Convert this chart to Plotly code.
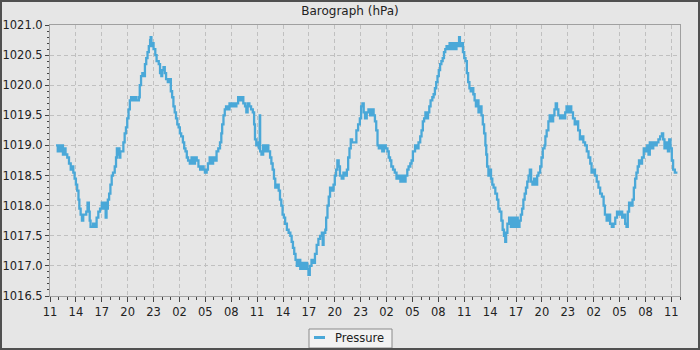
import datetime as dt
import plotly.graph_objects as go

# ---- data (hours after the first 11:00 tick, pressure in hPa) ----
hours = [
    0.7, 0.9, 1.0, 1.2, 1.3, 1.5, 1.6, 1.8, 2.0, 2.2, 2.4, 2.55, 2.7, 2.85, 3.0, 3.15, 3.3, 3.4, 3.55, 3.7,
    3.85, 4.05, 4.2, 4.35, 4.5, 4.6, 4.7, 5.0, 5.2, 5.4, 5.6, 5.8, 6.0, 6.2, 6.35, 6.45, 6.55, 6.7, 6.85, 7.0,
    7.15, 7.3, 7.5, 7.65, 7.75, 7.85, 7.95, 8.05, 8.15, 8.3, 8.5, 8.65, 8.8, 8.95, 9.1, 9.25, 9.4, 9.6, 9.8, 10.0,
    10.3, 10.4, 10.55, 10.7, 10.8, 11.0, 11.15, 11.3, 11.45, 11.6, 11.66, 11.75, 11.9, 12.0, 12.2, 12.35, 12.5,
    12.6, 12.75, 12.9, 13.0, 13.15, 13.3, 13.45, 13.65, 13.85, 14.0, 14.15, 14.3, 14.45, 14.6, 14.75, 14.9, 15.05,
    15.2, 15.4, 15.55, 15.7, 15.85, 16.0, 16.2, 16.4, 16.6, 16.8, 17.0, 17.2, 17.4, 17.6, 17.8, 17.95, 18.15, 18.3,
    18.5, 18.7, 18.9, 19.1, 19.3, 19.5, 19.7, 19.85, 19.95, 20.1, 20.25, 20.4, 20.6, 20.8, 21.0, 21.2, 21.4, 21.6,
    21.8, 22.0, 22.2, 22.4, 22.6, 22.75, 22.9, 23.1, 23.3, 23.5, 23.65, 23.75, 23.9, 24.05, 24.2, 24.3, 24.35, 24.5,
    24.7, 24.9, 25.1, 25.3,
    25.5, 25.65, 25.8, 25.95, 26.1, 26.3, 26.5, 26.65, 26.8, 26.95, 27.1, 27.25, 27.45, 27.65, 27.85, 28.0, 28.15,
    28.3, 28.45, 28.6, 28.8, 29.0, 29.2, 29.4, 29.6, 29.8, 29.95, 30.1, 30.3, 30.5, 30.7, 30.9, 31.1, 31.3, 31.5,
    31.6, 31.7, 31.9, 32.0, 32.15, 32.3, 32.45, 32.65, 32.85, 33.0, 33.15, 33.3, 33.45, 33.6, 33.8, 34.0, 34.2,
    34.4, 34.55, 34.7, 34.85, 35.0, 35.3, 35.5, 35.7, 35.9, 36.05, 36.2, 36.35, 36.5, 36.7, 36.9,
    37.1, 37.3, 37.5, 37.65, 37.8, 37.95, 38.1, 38.3, 38.5, 38.7, 38.9, 39.1, 39.25, 39.4, 39.55, 39.75, 39.95,
    40.15, 40.4, 40.6, 40.8, 41.0, 41.2, 41.4, 41.55, 41.75, 41.9, 42.05, 42.3, 42.5, 42.7, 42.9, 43.05, 43.2,
    43.35, 43.5, 43.65, 43.8, 43.95, 44.1, 44.3, 44.45, 44.6, 44.75, 44.9, 45.05, 45.2, 45.35, 45.5, 45.65, 45.8,
    45.95, 46.1, 46.3, 46.5, 46.7, 46.9, 47.1, 47.3, 47.4, 47.5, 47.7, 47.85, 48.0, 48.15, 48.3, 48.45, 48.6,
    48.75, 48.9, 49.05, 49.2, 49.35, 49.5, 49.65, 49.8, 50.0, 50.15, 50.3, 50.45, 50.55, 50.65, 50.8, 50.95, 51.1,
    51.25, 51.4, 51.6, 51.8, 51.95, 52.1, 52.3, 52.45, 52.6, 52.75, 52.85, 53.0, 53.2, 53.4, 53.6, 53.8, 54.0,
    54.2, 54.4, 54.55, 54.7, 54.85, 55.0, 55.15, 55.3, 55.45, 55.6, 55.75, 55.9, 56.1, 56.3, 56.45, 56.6, 56.8,
    56.95, 57.1, 57.3, 57.4, 57.55, 57.75, 57.9, 58.1, 58.3, 58.45, 58.6, 58.75, 58.9, 59.1, 59.3, 59.5, 59.7,
    59.85, 60.0, 60.2, 60.4, 60.6, 60.8,
    61.0, 61.2, 61.4, 61.6, 61.8, 62.0, 62.2, 62.4, 62.6, 62.75, 62.95, 63.15, 63.35, 63.55, 63.75, 63.95, 64.15,
    64.3, 64.5, 64.7, 64.9, 65.1, 65.3, 65.5, 65.7, 65.9, 66.1, 66.3, 66.5, 66.65, 66.8, 66.95, 67.1, 67.3, 67.5,
    67.65, 67.8, 67.95, 68.1, 68.25, 68.45, 68.6, 68.8, 69.0, 69.2, 69.35, 69.5, 69.7, 69.9, 70.1, 70.3, 70.5,
    70.7, 70.9, 71.05, 71.2, 71.4, 71.6, 71.75, 71.9, 72.05, 72.2, 72.4, 72.7,
]
pressure = [
    1019.0, 1018.9, 1019.0, 1018.9, 1019.0, 1018.85, 1018.95, 1018.85, 1018.8, 1018.7, 1018.6, 1018.65, 1018.55,
    1018.45, 1018.35, 1018.25, 1018.1, 1017.95, 1017.85, 1017.75,
    1017.85, 1017.85, 1017.9, 1018.05, 1017.9, 1017.75, 1017.65, 1017.7, 1017.65, 1017.8, 1017.9, 1017.95, 1018.05,
    1017.95, 1018.05, 1017.8, 1017.95, 1018.1, 1018.2, 1018.35,
    1018.5, 1018.55, 1018.65, 1018.8, 1018.95, 1018.85, 1018.95, 1018.8, 1018.9, 1018.9, 1019.05, 1019.2, 1019.3,
    1019.45, 1019.6, 1019.75, 1019.8, 1019.75, 1019.8, 1019.75,
    1019.8, 1020.0, 1020.15, 1020.2, 1020.15, 1020.35, 1020.45, 1020.55, 1020.65, 1020.75, 1020.8, 1020.65, 1020.7,
    1020.6, 1020.5, 1020.4, 1020.4,
    1020.35, 1020.2, 1020.15, 1020.25, 1020.3, 1020.2, 1020.1, 1020.05, 1020.1, 1019.9, 1019.8, 1019.65, 1019.55,
    1019.45, 1019.35, 1019.3, 1019.2,
    1019.15, 1019.05, 1018.95, 1018.9, 1018.8, 1018.75, 1018.7, 1018.8, 1018.7, 1018.8, 1018.75, 1018.65, 1018.6,
    1018.65, 1018.6, 1018.55, 1018.6, 1018.7,
    1018.8, 1018.7, 1018.8, 1018.75, 1018.9, 1018.95, 1019.05, 1019.2, 1019.35, 1019.5, 1019.6, 1019.65, 1019.6,
    1019.7, 1019.65, 1019.7, 1019.65, 1019.7,
    1019.8, 1019.75, 1019.8, 1019.7, 1019.65, 1019.55, 1019.7, 1019.65, 1019.6, 1019.55, 1019.35, 1019.1, 1019.0,
    1019.05, 1018.95, 1019.5, 1018.9, 1018.85,
    1019.0, 1018.9, 1019.0, 1018.9,
    1018.8, 1018.7, 1018.6, 1018.45, 1018.3, 1018.35, 1018.25, 1018.1, 1018.0, 1017.85, 1017.8, 1017.7, 1017.6,
    1017.55, 1017.5, 1017.4, 1017.3,
    1017.2, 1017.1, 1017.0, 1017.1, 1016.95, 1017.05, 1016.95, 1017.05, 1016.95, 1016.85, 1017.0, 1017.1, 1017.05,
    1017.2, 1017.35, 1017.45, 1017.5, 1017.55,
    1017.35, 1017.55, 1017.6, 1017.8, 1018.0, 1018.15, 1018.3, 1018.25, 1018.35, 1018.5, 1018.6, 1018.75, 1018.65,
    1018.5, 1018.45, 1018.55, 1018.5,
    1018.6, 1018.8, 1018.95, 1019.1, 1019.05, 1019.05, 1019.25, 1019.35, 1019.45, 1019.65, 1019.7, 1019.55, 1019.45,
    1019.55, 1019.6,
    1019.5, 1019.6, 1019.5, 1019.4, 1019.25, 1019.0, 1018.95, 1019.0, 1018.9, 1019.0, 1018.95, 1018.9, 1018.8,
    1018.75, 1018.65, 1018.6, 1018.55,
    1018.45, 1018.5, 1018.4, 1018.5, 1018.4, 1018.5, 1018.6, 1018.65, 1018.7, 1018.75, 1018.9, 1019.0, 1018.95,
    1019.05, 1019.15, 1019.25, 1019.4,
    1019.45, 1019.55, 1019.45, 1019.55, 1019.65, 1019.75, 1019.8, 1019.85, 1019.95, 1020.05, 1020.15, 1020.25,
    1020.35, 1020.4, 1020.45, 1020.55, 1020.6,
    1020.65, 1020.6, 1020.7, 1020.6, 1020.7, 1020.6, 1020.7, 1020.65, 1020.8, 1020.65, 1020.7, 1020.55, 1020.45,
    1020.4, 1020.2, 1020.05, 1019.95,
    1019.9, 1019.95, 1019.85, 1019.75, 1019.65, 1019.75, 1019.55, 1019.65, 1019.5, 1019.35, 1019.2, 1019.0,
    1018.85, 1018.65, 1018.5, 1018.6, 1018.45,
    1018.35, 1018.3, 1018.2, 1018.1, 1017.95, 1017.9, 1017.75, 1017.6, 1017.5, 1017.4, 1017.55, 1017.7, 1017.8,
    1017.65, 1017.8, 1017.65, 1017.8,
    1017.65, 1017.75, 1017.85, 1017.95, 1018.1, 1018.2, 1018.3, 1018.4, 1018.5, 1018.6, 1018.4, 1018.35, 1018.45,
    1018.35, 1018.5, 1018.55, 1018.65,
    1018.8, 1018.95, 1019.0, 1019.15, 1019.25, 1019.4, 1019.5, 1019.4, 1019.5, 1019.6, 1019.7, 1019.6, 1019.5,
    1019.45, 1019.5, 1019.45, 1019.55,
    1019.65, 1019.55, 1019.65, 1019.55, 1019.45, 1019.35,
    1019.4, 1019.25, 1019.1, 1019.15, 1019.05, 1019.0, 1018.9, 1018.8, 1018.7, 1018.55, 1018.6, 1018.5, 1018.4,
    1018.3, 1018.2, 1018.15, 1018.0,
    1017.85, 1017.75, 1017.85, 1017.7, 1017.65, 1017.7, 1017.8, 1017.9, 1017.85, 1017.9, 1017.8, 1017.85, 1017.7,
    1017.65, 1017.9, 1018.05, 1018.0, 1018.1,
    1018.3, 1018.45, 1018.55, 1018.65, 1018.75, 1018.7, 1018.8, 1018.95, 1018.9, 1019.0, 1018.85, 1019.05, 1018.95,
    1019.05, 1019.0, 1019.05, 1019.1,
    1019.15, 1019.2, 1019.1, 1018.95, 1019.05, 1018.9, 1019.1, 1018.95, 1018.75, 1018.6, 1018.55, 1018.55,
]
series_name = "Pressure"
chart_title = "Barograph (hPa)"
start_time = dt.datetime(2024, 5, 1, 11, 0)
x_end_hours = 73.0
y_range = [1016.5, 1021.0]

times = [start_time + dt.timedelta(hours=h) for h in hours]

LINE = "#4aa8d8"
BG = "#e6e6e6"
FONT = "DejaVu Sans"

fig = go.Figure()
fig.add_trace(go.Scatter(
    x=times, y=pressure, mode="lines", name=series_name,
    line=dict(color=LINE, width=2.3, shape="hv"),
    showlegend=False, hoverinfo="skip",
))

W, H = 700, 350
ml, mr, mt, mb = 50, 20, 25, 54
pw, ph = W - ml - mr, H - mt - mb


def px_x(p):
    return (p - ml) / pw


def px_y(p):
    return (mt + ph - p) / ph


# compact legend box drawn below the plot (text is a real annotation)
leg_x0, leg_x1, leg_y0, leg_y1 = 309, 392, 329, 348
leg_mid = 337.5
shapes = [
    dict(type="rect", xref="paper", yref="paper",
         x0=px_x(leg_x0), x1=px_x(leg_x1), y0=px_y(leg_y1), y1=px_y(leg_y0),
         fillcolor="#f2f2f2", line=dict(color="#8a8a8a", width=1), layer="above"),
    dict(type="line", xref="paper", yref="paper",
         x0=px_x(314), x1=px_x(325), y0=px_y(leg_mid), y1=px_y(leg_mid),
         line=dict(color=LINE, width=3), layer="above"),
    dict(type="rect", xref="paper", yref="paper",
         x0=-ml / pw, x1=1 + mr / pw, y0=-mb / ph, y1=1 + mt / ph,
         line=dict(color="#505050", width=4), layer="above"),
]
annotations = [
    dict(text=series_name, xref="paper", yref="paper", x=px_x(333), y=px_y(leg_mid),
         xanchor="left", yanchor="middle", showarrow=False,
         font=dict(family=FONT, size=11.5, color="#222")),
]

fig.update_layout(
    width=W, height=H,
    margin=dict(l=ml, r=mr, t=mt, b=mb, pad=0, autoexpand=False),
    paper_bgcolor=BG, plot_bgcolor=BG,
    font=dict(family=FONT, size=11.5, color="#222"),
    title=dict(text=chart_title, x=0.5, xanchor="center", y=1 - 11 / H, yanchor="middle",
               font=dict(family=FONT, size=12, color="#222")),
    showlegend=False,
    shapes=shapes,
    annotations=annotations,
)

fig.update_xaxes(
    type="date", automargin=False,
    range=[start_time, start_time + dt.timedelta(hours=x_end_hours)],
    tick0=start_time, dtick=3 * 3600 * 1000, tickformat="%H",
    ticks="outside", ticklen=5, tickcolor="#444", tickwidth=1,
    showline=True, linecolor="#a0a0a0", linewidth=1, mirror=True,
    showgrid=True, gridcolor="#c0c0c0", griddash="4px,3px", gridwidth=1,
    zeroline=False,
    minor=dict(dtick=3600 * 1000, ticks="outside", ticklen=3, tickcolor="#444", showgrid=False),
    tickfont=dict(family=FONT, size=11.5, color="#222"),
)
fig.update_yaxes(
    automargin=False,
    range=y_range, dtick=0.5, tick0=1016.5, tickformat=".1f",
    ticks="outside", ticklen=4, tickcolor="#444", tickwidth=1,
    showline=True, linecolor="#a0a0a0", linewidth=1, mirror=True,
    showgrid=True, gridcolor="#c0c0c0", griddash="4px,3px", gridwidth=1,
    zeroline=False,
    minor=dict(dtick=0.1, ticks="outside", ticklen=2, tickcolor="#444", showgrid=False),
    tickfont=dict(family=FONT, size=11.5, color="#222"),
)

fig.write_html("out.html")
